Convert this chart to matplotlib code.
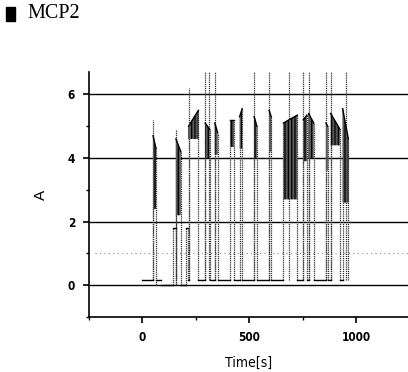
import matplotlib
matplotlib.use("Agg")
import matplotlib.pyplot as plt
from matplotlib.patches import Rectangle
from matplotlib.ticker import MultipleLocator

# ===============================
# Data
# ===============================
# current pulses: start / end time [s], band low, band top at start / end
pulse_start = [50, 145, 157, 203, 216, 294, 339, 411, 455, 523, 593, 660, 753, 778, 859, 881, 937]
pulse_end   = [64, 157, 180, 212, 262, 315, 352, 430, 467, 536, 603, 725, 770, 802, 867, 925, 964]
pulse_lo    = [2.4, 1.8, 2.2, 1.8, 4.6, 4.0, 4.1, 4.35, 4.3, 4.0, 4.2, 2.7, 3.9, 4.0, 3.6, 4.4, 2.6]
pulse_hi_a  = [4.7, 1.8, 4.6, 1.8, 5.0, 5.1, 5.1, 5.2, 5.3, 5.3, 5.5, 5.1, 5.2, 5.4, 5.1, 5.4, 5.55]
pulse_hi_b  = [4.3, 1.8, 4.2, 1.8, 5.5, 4.9, 4.8, 5.2, 5.55, 5.0, 5.3, 5.35, 5.35, 5.1, 5.0, 4.9, 4.6]

# idle level before each pulse
trace_start = 0
trace_end = 964
gap_level = [0.15, 0.0, 0.0, 0.0, 0.15, 0.15, 0.15, 0.15, 0.15, 0.15, 0.15, 0.15, 0.15, 0.15, 0.15, 0.15, 0.15]
gap_split = {1: (89, 0.15)}   # gap before pulse 1 starts at 0.15, drops to 0 at 89 s

# overshoot spikes (time, top)
spike_t   = [48, 157, 216, 294, 310, 341, 523, 593, 684, 753, 781, 859, 881, 953]
spike_top = [5.2, 4.9, 6.2, 7, 7, 7, 7, 7, 7, 7, 7, 7, 7, 7]

# ===============================
# Figure
# ===============================
plt.rcParams["hatch.linewidth"] = 0.9
fig = plt.figure(figsize=(4.08, 3.72), dpi=100)
ax = fig.add_axes([0.218, 0.148, 0.782, 0.658])

ax.set_xlim(-250, 1243)
ax.set_ylim(-1, 6.7)

# horizontal reference lines
for yv in [0, 2, 4, 6]:
    ax.axhline(yv, color="black", lw=1.0, zorder=1)
ax.axhline(1, xmin=0.02, color="0.55", lw=0.8, ls=(0, (1, 3)), zorder=1)

edge_kw = dict(color="0.2", lw=0.9, ls=(0, (1, 0.7)), zorder=2)

prev_end = trace_start
for i in range(len(pulse_start)):
    t0, t1 = pulse_start[i], pulse_end[i]
    lvl = gap_level[i]
    # idle segment before this pulse
    if i in gap_split:
        ts, lv0 = gap_split[i]
        ax.plot([prev_end, ts], [lv0, lv0], color="black", lw=1.0, zorder=3)
        ax.plot([ts, t0], [lvl, lvl], color="black", lw=1.0, zorder=3)
    else:
        ax.plot([prev_end, t0], [lvl, lvl], color="black", lw=1.0, zorder=3)
    # edges
    nxt = gap_level[i + 1] if i + 1 < len(gap_level) else 0.15
    ax.vlines(t0, lvl, pulse_hi_a[i], **edge_kw)
    ax.vlines(t1, nxt, pulse_hi_b[i], **edge_kw)
    # noisy band of the pulse
    ax.fill_between([t0, t1], [pulse_lo[i]] * 2, [pulse_hi_a[i], pulse_hi_b[i]],
                    facecolor="0.35", edgecolor="black", hatch="|||||", lw=0, zorder=3)
    ax.plot([t0, t1], [pulse_hi_a[i], pulse_hi_b[i]], color="black", lw=1.0, zorder=3)
    prev_end = t1
ax.plot([prev_end, trace_end], [0.15, 0.15], color="black", lw=1.0, zorder=3)

for t, top in zip(spike_t, spike_top):
    ax.vlines(t, 0.15, top, **edge_kw)

# axes styling
for s in ["top", "right"]:
    ax.spines[s].set_visible(False)
ax.spines["left"].set_linewidth(1.2)
ax.spines["bottom"].set_linewidth(1.2)

ax.xaxis.set_major_locator(MultipleLocator(500))
ax.xaxis.set_minor_locator(MultipleLocator(250))
ax.yaxis.set_major_locator(MultipleLocator(2))
ax.yaxis.set_minor_locator(MultipleLocator(1))
ax.tick_params(which="major", length=4, width=1.2, direction="out", pad=6)
ax.tick_params(which="minor", length=2.5, width=1.0, direction="out")

tick_font = ["Liberation Sans Narrow", "DejaVu Sans"]
for lab in ax.get_xticklabels() + ax.get_yticklabels():
    lab.set_family(tick_font)
    lab.set_fontsize(8.5)
    lab.set_fontweight("semibold")
    lab.set_fontstretch("condensed")

ax.set_xlabel("Time[s]", family=tick_font, fontsize=10, labelpad=9, fontstretch="condensed")
ax.set_ylabel("A", family=["Liberation Sans", "DejaVu Sans"], fontsize=11, labelpad=14)

# title with black marker bar
fig.patches.append(Rectangle((6 / 408, 1 - 21 / 372), 9 / 408, 14 / 372,
                             transform=fig.transFigure, color="black"))
fig.text(27 / 408, 1 - 14 / 372, "MCP2", family=["Liberation Serif", "DejaVu Serif"],
         fontsize=14.5, va="center", ha="left")

fig.savefig("out.png", dpi=100)
